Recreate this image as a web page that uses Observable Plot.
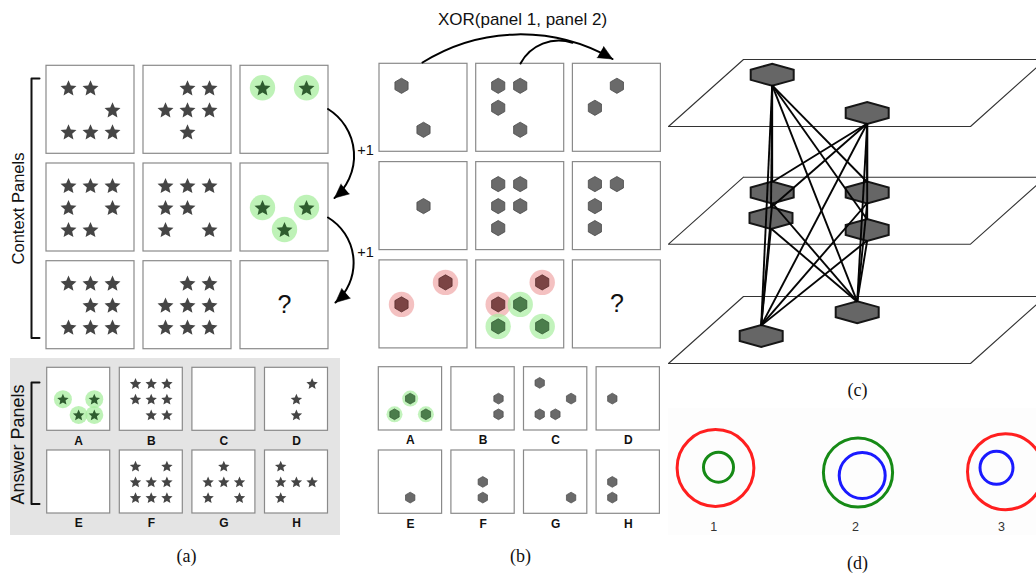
<!DOCTYPE html>
<html>
<head>
<meta charset="utf-8">
<script src="https://cdn.jsdelivr.net/npm/d3@7"></script>
<script src="https://cdn.jsdelivr.net/npm/@observablehq/plot@0.6"></script>
<style>
  html, body { margin: 0; padding: 0; background: #fff; overflow: hidden; }
  #chart svg { display: block; }
</style>
</head>
<body>
<div id="chart"></div>
<script>
// ====================== DATA ======================
// Panel (a): 3x3 context matrix. Each panel is a 3x3 mask: "1" star, "g" highlighted star, "." empty, "?" unknown
const contextA = [
  ["11./..1/111", ".11/111/.1.", "g.g/.../..."],
  ["111/1.1/11.", "111/11./1.1", ".../g.g/.g."],
  ["111/.11/111", ".11/111/111", "?"]
];
const answerLetters = ["A", "B", "C", "D", "E", "F", "G", "H"];
const answersA = [
  ".../g.g/.gg", "111/111/.11", ".../.../...", "..1/.1./.1.",
  ".../.../...", "1.1/111/111", ".1./111/1.1", "1../111/1.."
];
// Panel (b): "1" hexagon, "r" red-highlighted, "g" green-highlighted
const contextB = [
  ["1../.../.1.", "11./1../.1.", ".1./1../..."],
  [".../.1./...", "11./11./1..", "11./1../1.."],
  ["..r/r../...", "..r/rg./g.g", "?"]
];
const answersB = [
  ".../.g./g.g", ".../..1/..1", "1../..1/11.", ".../1../...",
  ".../.../.1.", ".../.1./.1.", ".../.../..1", ".../1../1.."
];
const ruleLabels = ["+1", "+1"];
const xorLabel = "XOR(panel 1, panel 2)";
const sideLabels = ["Context Panels", "Answer Panels"];
const captions = ["(a)", "(b)", "(c)", "(d)"];
// Panel (c): graph nodes per layer and their connections
const graphLayers = ["top", "middle", "bottom"];
const graphNodes = [
  {id: "A", layer: 0}, {id: "B", layer: 0},
  {id: "C", layer: 1}, {id: "D", layer: 1}, {id: "E", layer: 1}, {id: "F", layer: 1},
  {id: "G", layer: 2}, {id: "H", layer: 2}
];
const graphEdges = [
  ["A","C"],["A","D"],["A","E"],["A","F"],["A","G"],["A","H"],
  ["B","C"],["B","D"],["B","E"],["B","F"],["B","G"],["B","H"],
  ["C","G"],["C","H"],["D","G"],["D","H"],["E","G"],["E","H"],["F","G"],["F","H"]
];
// Panel (d): nested rings
const ringLabels = ["1", "2", "3"];
const ringOuter = ["red", "green", "red"];
const ringInner = ["green", "blue", "blue"];

// ====================== LAYOUT & STYLE ======================
const W = 1036, H = 573;
const colors = {
  frame: "#8a8a8a", star: "#454545", starG: "#2f5c2f", glowG: "#a8ee9f", glowR: "#f0a6a6",
  hex: "#6a6a6a", hexStroke: "#4a4a4a", hexR: "#7b4444", hexRStroke: "#5a2d2d",
  hexG: "#4b7d4b", hexGStroke: "#355a35",
  red: "#ff1f1f", green: "#168a16", blue: "#1a1aff", node: "#666666"
};
const layA = {x0: 46, y0: 65.3, dx: 97, dy: 97.7, size: 88, step: 22};
const layAns = {x0: 46.7, y0: 367.3, dx: 72.6, dy: 82.7, size: 63, step: 15.7};
const layB = {x0: 379, y0: 63.3, dx: 96.7, dy: 98.3, size: 88, step: 22};
const layAnsB = {x0: 378.3, y0: 366.7, dx: 72.6, dy: 83.3, size: 63.3, step: 15.7};

function cells(pattern, ox, oy, step) {
  if (pattern === "?") return [];
  return pattern.split("/").flatMap((row, r) =>
    [...row].map((ch, c) => ({ch, x: ox + step * (c + 1), y: oy + step * (r + 1)}))
  ).filter(d => d.ch !== ".");
}

const frames = [], bigItems = [], smallItems = [], bigHex = [], smallHex = [], qmarks = [], letters = [];
contextA.forEach((row, i) => row.forEach((p, j) => {
  const ox = layA.x0 + j * layA.dx, oy = layA.y0 + i * layA.dy;
  frames.push({x1: ox, y1: oy, x2: ox + layA.size, y2: oy + layA.size});
  if (p === "?") qmarks.push({x: ox + layA.size / 2, y: oy + layA.size / 2});
  bigItems.push(...cells(p, ox, oy, layA.step));
}));
answersA.forEach((p, k) => {
  const ox = layAns.x0 + (k % 4) * layAns.dx, oy = layAns.y0 + Math.floor(k / 4) * layAns.dy;
  frames.push({x1: ox, y1: oy, x2: ox + layAns.size, y2: oy + layAns.size});
  letters.push({x: ox + layAns.size / 2, y: oy + layAns.size + 10, text: answerLetters[k]});
  smallItems.push(...cells(p, ox, oy, layAns.step));
});
contextB.forEach((row, i) => row.forEach((p, j) => {
  const ox = layB.x0 + j * layB.dx, oy = layB.y0 + i * layB.dy;
  frames.push({x1: ox, y1: oy, x2: ox + layB.size, y2: oy + layB.size});
  if (p === "?") qmarks.push({x: ox + layB.size / 2, y: oy + layB.size / 2});
  bigHex.push(...cells(p, ox, oy, layB.step));
}));
answersB.forEach((p, k) => {
  const ox = layAnsB.x0 + (k % 4) * layAnsB.dx, oy = layAnsB.y0 + Math.floor(k / 4) * layAnsB.dy;
  frames.push({x1: ox, y1: oy, x2: ox + layAnsB.size, y2: oy + layAnsB.size});
  letters.push({x: ox + layAnsB.size / 2, y: oy + layAnsB.size + 10, text: answerLetters[k]});
  smallHex.push(...cells(p, ox, oy, layAnsB.step));
});

// symbols
const starSymbol = {
  draw(ctx, size) {
    const R = Math.sqrt(size / Math.PI), r = R * 0.46, dy = R * 0.095;
    for (let i = 0; i < 10; i++) {
      const a = -Math.PI / 2 + i * Math.PI / 5, rr = i % 2 ? r : R;
      const px = rr * Math.cos(a), py = rr * Math.sin(a) + dy;
      i ? ctx.lineTo(px, py) : ctx.moveTo(px, py);
    }
    ctx.closePath();
  }
};
const hexSymbol = {
  draw(ctx, size) {
    const R = Math.sqrt(size / Math.PI);
    for (let i = 0; i < 6; i++) {
      const a = -Math.PI / 2 + i * Math.PI / 3;
      const px = R * Math.cos(a), py = R * Math.sin(a);
      i ? ctx.lineTo(px, py) : ctx.moveTo(px, py);
    }
    ctx.closePath();
  }
};
const nodeW = 43, nodeH = 22;
const nodeSymbol = {
  draw(ctx) {
    const w = nodeW / 2, h = nodeH / 2, k = nodeH * 0.23;
    ctx.moveTo(-w, -k); ctx.lineTo(0, -h); ctx.lineTo(w, -k);
    ctx.lineTo(w, k); ctx.lineTo(0, h); ctx.lineTo(-w, k); ctx.closePath();
  }
};

// brackets
const brackets = [
  {id: 0, pts: [[39, 78], [31, 78], [31, 337.5], [39, 337.5]]},
  {id: 1, pts: [[39, 382], [31, 382], [31, 503.5], [39, 503.5]]}
].flatMap(b => b.pts.map(([x, y]) => ({id: b.id, x, y})));

// curved arrows
const arrowSpecs = [
  {x1: 327.5, y1: 108.5, x2: 334, y2: 197.5, bend: 54, head: true},
  {x1: 327.5, y1: 217, x2: 335, y2: 302, bend: 54, head: true},
  {x1: 422, y1: 62, x2: 612, y2: 58.5, bend: 31, head: true},
  {x1: 520, y1: 63, x2: 572, y2: 42.3, bend: 40, head: false}
];
const heads = arrowSpecs.filter(d => d.head).map(d => {
  const chord = Math.atan2(d.y2 - d.y1, d.x2 - d.x1);
  const a = chord + d.bend * Math.PI / 180;
  const rot = Math.atan2(Math.cos(a), -Math.sin(a)) * 180 / Math.PI;
  return {x: d.x2, y: d.y2, rotate: rot};
});

// panel (c) layout
const planeTops = [59, 176.7, 296], planeDepth = 67, planeX = [743, 1045, 970, 668];
const planes = planeTops.flatMap((t, i) => [
  {p: i, x: planeX[0], y: t}, {p: i, x: planeX[1], y: t},
  {p: i, x: planeX[2], y: t + planeDepth}, {p: i, x: planeX[3], y: t + planeDepth},
  {p: i, x: planeX[0], y: t}
]);
const nodePos = {
  A: [771.7, 74.3], B: [866.7, 112.5], C: [771.7, 192], D: [770.5, 217.5],
  E: [866.7, 192], F: [866.7, 229.5], G: [856.7, 311.7], H: [760.7, 335.5]
};
const nodes = graphNodes.map(n => ({...n, x: nodePos[n.id][0], y: nodePos[n.id][1]}));
const edges = graphEdges.map(([a, b]) => ({
  x1: nodePos[a][0], y1: nodePos[a][1] + nodeH / 2 - 0.5,
  x2: nodePos[b][0], y2: nodePos[b][1] - nodeH / 2 + 0.5
}));

// panel (d) layout
const ringGeom = [
  {outer: [715, 467.5, 38.4], inner: [718, 466.7, 15]},
  {outer: [857.5, 472, 34.6], inner: [861.7, 475, 23]},
  {outer: [1005, 471.2, 38], inner: [996, 467.3, 16.5]}
];
const rings = ringGeom.flatMap((g, i) => [
  {x: g.outer[0], y: g.outer[1], r: g.outer[2], color: colors[ringOuter[i]]},
  {x: g.inner[0], y: g.inner[1], r: g.inner[2], color: colors[ringInner[i]]}
]);
const ringLabelPos = [[713.3, 526], [855, 526], [1001, 526]];

const bgRects = [
  {x1: 10, y1: 358, x2: 340, y2: 535, fill: "#e4e4e4"},
  {x1: 668, y1: 408, x2: 1036, y2: 535, fill: "#fdfdfd"}
];

const sans = "Liberation Sans, Arial, sans-serif";
const serif = "Liberation Serif, Times New Roman, serif";

const marks = [
  Plot.rect(bgRects, {x1: "x1", y1: "y1", x2: "x2", y2: "y2", fill: "fill"}),
  Plot.rect(frames, {x1: "x1", y1: "y1", x2: "x2", y2: "y2", fill: "white", stroke: colors.frame, strokeWidth: 1.2}),
  // glows
  Plot.dot(bigItems.filter(d => d.ch === "g"), {x: "x", y: "y", r: 12.7, fill: colors.glowG, fillOpacity: 0.75}),
  Plot.dot(smallItems.filter(d => d.ch === "g"), {x: "x", y: "y", r: 9, fill: colors.glowG, fillOpacity: 0.75}),
  Plot.dot(bigHex.filter(d => d.ch === "r"), {x: "x", y: "y", r: 12.7, fill: colors.glowR, fillOpacity: 0.7}),
  Plot.dot(bigHex.filter(d => d.ch === "g"), {x: "x", y: "y", r: 12.7, fill: colors.glowG, fillOpacity: 0.7}),
  Plot.dot(smallHex.filter(d => d.ch === "g"), {x: "x", y: "y", r: 8, fill: colors.glowG, fillOpacity: 0.7}),
  // stars
  Plot.dot(bigItems, {x: "x", y: "y", r: 8.4, symbol: starSymbol, fill: d => d.ch === "g" ? colors.starG : colors.star}),
  Plot.dot(smallItems, {x: "x", y: "y", r: 6, symbol: starSymbol, fill: d => d.ch === "g" ? colors.starG : colors.star}),
  // hexagons
  Plot.dot(bigHex, {x: "x", y: "y", r: 7.6, symbol: hexSymbol,
    fill: d => d.ch === "r" ? colors.hexR : d.ch === "g" ? colors.hexG : colors.hex,
    stroke: d => d.ch === "r" ? colors.hexRStroke : d.ch === "g" ? colors.hexGStroke : colors.hexStroke, strokeWidth: 0.8}),
  Plot.dot(smallHex, {x: "x", y: "y", r: 5.4, symbol: hexSymbol,
    fill: d => d.ch === "g" ? colors.hexG : colors.hex,
    stroke: d => d.ch === "g" ? colors.hexGStroke : colors.hexStroke, strokeWidth: 0.7}),
  Plot.text(qmarks, {x: "x", y: "y", text: () => "?", fontSize: 25, fontFamily: sans, fill: "#111"}),
  Plot.text(letters, {x: "x", y: "y", text: "text", fontSize: 12, fontWeight: "bold", fontFamily: sans, fill: "#111"}),
  // brackets
  Plot.line(brackets, {x: "x", y: "y", z: "id", stroke: "#111", strokeWidth: 2, curve: "linear"}),
  Plot.text([sideLabels[0]], {x: () => 18, y: () => 208, text: d => d, rotate: -90, fontSize: 16.5, fontFamily: sans, fill: "#111"}),
  Plot.text([sideLabels[1]], {x: () => 18, y: () => 444, text: d => d, rotate: -90, fontSize: 18, fontFamily: sans, fill: "#111"}),
  // arrows (one mark per arrow, each with its own bend)
  ...arrowSpecs.map(d => Plot.arrow([d], {x1: "x1", y1: "y1", x2: "x2", y2: "y2", bend: d.bend, stroke: "#000", strokeWidth: 2, headLength: 0})),
  Plot.vector(heads, {x: "x", y: "y", rotate: "rotate", length: 14, r: 6.5, shape: "spike", anchor: "end", fill: "#000", stroke: "#000", fillOpacity: 1, strokeWidth: 0.5}),
  Plot.text(ruleLabels, {x: () => 365, y: (d, i) => [150, 252][i], text: d => d, fontSize: 14.5, fontFamily: sans, fill: "#111"}),
  Plot.text([xorLabel], {x: () => 522, y: () => 19, text: d => d, fontSize: 17, fontFamily: sans, fill: "#111"}),
  // panel (c)
  Plot.line(planes, {x: "x", y: "y", z: "p", stroke: "#333", strokeWidth: 1.1, clip: true}),
  Plot.dot(nodes, {x: "x", y: "y", r: 10, symbol: nodeSymbol, fill: colors.node, stroke: "#161616", strokeWidth: 2}),
  Plot.link(edges, {x1: "x1", y1: "y1", x2: "x2", y2: "y2", stroke: "#050505", strokeWidth: 1.9}),
  // panel (d)
  ...rings.map(d => Plot.dot([d], {x: "x", y: "y", r: d.r, stroke: d.color, strokeWidth: 3, fill: "none"})),
  Plot.text(ringLabels, {x: (d, i) => ringLabelPos[i][0], y: (d, i) => ringLabelPos[i][1], text: d => d, fontSize: 12.5, fontFamily: sans, fill: "#333"}),
  // captions
  Plot.text(captions, {x: (d, i) => [186, 520, 857, 857][i], y: (d, i) => [556, 556, 390, 563][i], text: d => d, fontSize: 18, fontFamily: serif, fill: "#111"})
];

const chart = Plot.plot({
  width: W, height: H, margin: 0,
  x: {domain: [0, W], range: [0, W], axis: null},
  y: {domain: [0, H], range: [0, H], axis: null},
  style: {background: "white", overflow: "hidden"},
  marks
});
document.getElementById("chart").append(chart);
</script>
</body>
</html>
